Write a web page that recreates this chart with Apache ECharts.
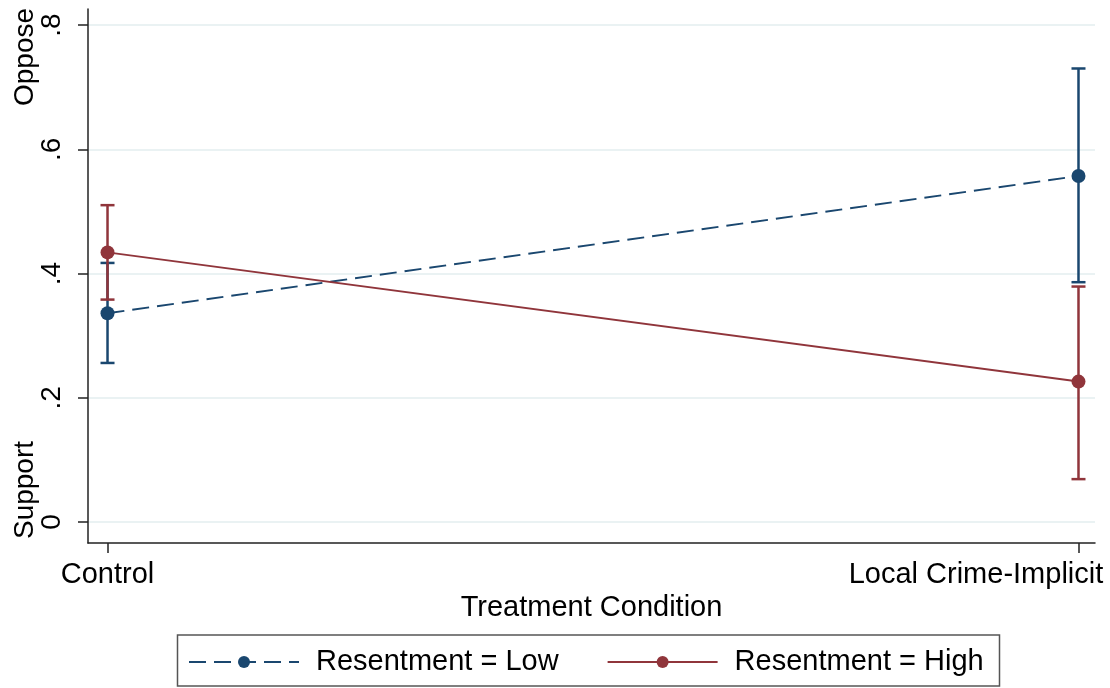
<!DOCTYPE html>
<html><head><meta charset="utf-8">
<script src="https://cdn.jsdelivr.net/npm/echarts@6/dist/echarts.min.js"></script>
<style>html,body{margin:0;padding:0;background:#fff}#c{width:1110px;height:688px}</style>
</head><body><div id="c"></div>
<script>
const categories = ['Control', 'Local Crime-Implicit'];
const xPositions = [0, 1];
const lowMean = [0.336, 0.557];
const lowLower = [0.256, 0.386];
const lowUpper = [0.417, 0.730];
const highMean = [0.434, 0.226];
const highLower = [0.358, 0.069];
const highUpper = [0.510, 0.379];
const yTicks = [0, 0.2, 0.4, 0.6, 0.8];
const yTickLabels = ['0', '.2', '.4', '.6', '.8'];
const seriesNames = ['Resentment = Low', 'Resentment = High'];
const xTitle = 'Treatment Condition';
const yEndLabels = ['Support', 'Oppose'];

const BLUE = '#1A476F', RED = '#90353B';
const FONT = 'Arial, "Liberation Sans", sans-serif';

function pts(means) { return xPositions.map((x, i) => [x, means[i]]); }
function bars(lo, hi) { return xPositions.map((x, i) => [x, lo[i], hi[i]]); }

function errRender(color) {
  return function (params, api) {
    const x = api.value(0);
    const a = api.coord([x, api.value(1)]);
    const b = api.coord([x, api.value(2)]);
    const hw = 7;
    const style = { stroke: color, lineWidth: 2.5, fill: null };
    return { type: 'group', children: [
      { type: 'line', shape: { x1: a[0], y1: a[1], x2: b[0], y2: b[1] }, style },
      { type: 'line', shape: { x1: a[0] - hw, y1: a[1], x2: a[0] + hw, y2: a[1] }, style },
      { type: 'line', shape: { x1: b[0] - hw, y1: b[1], x2: b[0] + hw, y2: b[1] }, style }
    ]};
  };
}

const chart = echarts.init(document.getElementById('c'), null, { renderer: 'canvas' });
chart.setOption({
  animation: false,
  backgroundColor: '#fff',
  textStyle: { fontFamily: FONT },
  grid: [
    { left: 88, right: 15, top: 25, bottom: 166, outerBoundsMode: 'none', containLabel: false },
    { left: 88, right: 15, top: 9, bottom: 145, outerBoundsMode: 'none', containLabel: false }
  ],
  xAxis: [
    {
      type: 'value', gridIndex: 0, min: -0.0201, max: 1.017, offset: 21,
      axisLine: { show: true, onZero: false, lineStyle: { color: '#222', width: 1.5 } },
      axisTick: { show: true, length: 10, inside: false, customValues: xPositions, lineStyle: { color: '#222', width: 1.5 } },
      axisLabel: {
        show: true, customValues: xPositions, margin: 17, color: '#000',
        formatter: function (v) {
          const i = xPositions.indexOf(Math.round(v));
          if (i === xPositions.length - 1) return '{t|' + categories[i] + '}{s|}';
          return '{t|' + categories[i] + '}';
        },
        rich: {
          t: { fontSize: 29, fontFamily: FONT, color: '#000' },
          s: { width: 205, fontSize: 29 }
        }
      },
      splitLine: { show: false },
      name: xTitle, nameLocation: 'middle', nameGap: 40,
      nameTextStyle: { fontSize: 29, color: '#000', fontFamily: FONT }
    },
    { type: 'value', gridIndex: 1, min: 0, max: 1, show: false }
  ],
  yAxis: [
    {
      type: 'value', gridIndex: 0, min: 0, max: 0.8, interval: 0.2,
      axisLine: { show: false, onZero: false },
      axisTick: { show: true, inside: false, length: 10, lineStyle: { color: '#222', width: 1.5 } },
      axisLabel: {
        show: true, rotate: 90, margin: 22, fontSize: 28, color: '#000', fontFamily: FONT,
        formatter: function (v) {
          let best = 0;
          yTicks.forEach((t, i) => { if (Math.abs(t - v) < Math.abs(yTicks[best] - v)) best = i; });
          return yTickLabels[best];
        }
      },
      splitLine: { show: true, lineStyle: { color: '#EAF2F3', width: 2 } }
    },
    {
      type: 'value', gridIndex: 1, min: 0, max: 1,
      axisLine: { show: true, onZero: false, lineStyle: { color: '#222', width: 1.5 } },
      axisTick: { show: false }, axisLabel: { show: false }, splitLine: { show: false }
    }
  ],
  legend: [
    {
      data: [seriesNames[0], seriesNames[1]], left: 188, top: 647, padding: 0,
      itemWidth: 110, itemHeight: 15, itemGap: 48,
      textStyle: { fontSize: 29, color: '#000', fontFamily: FONT, lineHeight: 30, padding: [0, 0, 0, 12] }
    }
  ],
  graphic: [
    { type: 'rect', shape: { x: 177.5, y: 635, width: 822, height: 51 }, style: { fill: 'none', stroke: '#555', lineWidth: 1.5 }, silent: true },
    { type: 'text', x: 25, y: 490, rotation: Math.PI / 2, style: { text: yEndLabels[0], font: '28px ' + FONT, fill: '#000', textAlign: 'center', textVerticalAlign: 'middle' } },
    { type: 'text', x: 25, y: 57, rotation: Math.PI / 2, style: { text: yEndLabels[1], font: '28px ' + FONT, fill: '#000', textAlign: 'center', textVerticalAlign: 'middle' } }
  ],
  series: [
    { type: 'custom', name: 'lowCI', xAxisIndex: 0, yAxisIndex: 0, data: bars(lowLower, lowUpper), renderItem: errRender(BLUE), z: 2 },
    { type: 'custom', name: 'highCI', xAxisIndex: 0, yAxisIndex: 0, data: bars(highLower, highUpper), renderItem: errRender(RED), z: 3 },
    {
      type: 'line', name: seriesNames[0], xAxisIndex: 0, yAxisIndex: 0, data: pts(lowMean),
      symbol: 'circle', symbolSize: 14, color: BLUE,
      lineStyle: { color: BLUE, width: 2, type: [17, 8] }, itemStyle: { color: BLUE }, z: 4
    },
    {
      type: 'line', name: seriesNames[1], xAxisIndex: 0, yAxisIndex: 0, data: pts(highMean),
      symbol: 'circle', symbolSize: 14, color: RED,
      lineStyle: { color: RED, width: 2 }, itemStyle: { color: RED }, z: 5
    }
  ]
});
</script></body></html>
